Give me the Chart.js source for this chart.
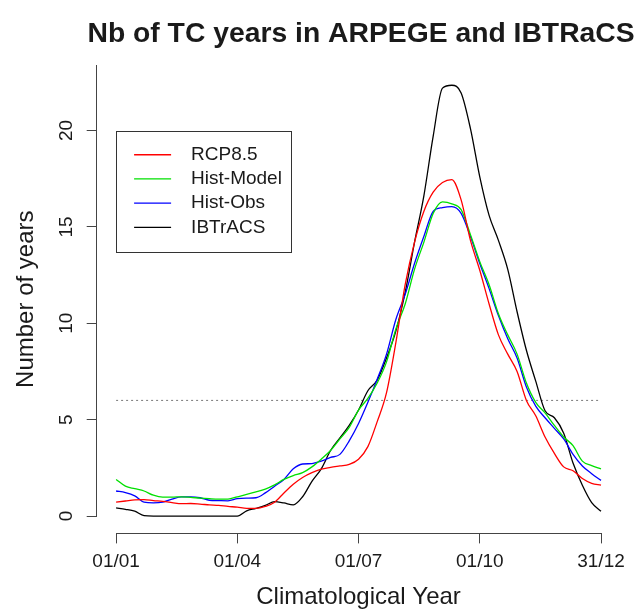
<!DOCTYPE html>
<html>
<head>
<meta charset="utf-8">
<title>Nb of TC years in ARPEGE and IBTRaCS</title>
<script src="https://cdn.jsdelivr.net/npm/chart.js@4.4.1/dist/chart.umd.min.js"></script>
<style>
  html, body { margin: 0; padding: 0; background: #fff; }
  canvas { display: block; }
</style>
</head>
<body>
<canvas id="chart" width="644" height="611"></canvas>
<script>
// day of the climatological year, one sample a week
const days = [1, 8, 15, 22, 29, 36, 43, 50, 57, 64, 71, 78, 85, 92, 99, 106, 113, 120, 127, 134,
  141, 148, 155, 162, 169, 176, 183, 190, 197, 204, 211, 218, 225, 232, 239, 246, 253, 260, 267, 274,
  281, 288, 295, 302, 309, 316, 323, 330, 337, 344, 351, 358, 365];

const rcp85 = [0.72, 0.78, 0.84, 0.85, 0.8, 0.76, 0.7, 0.64, 0.65, 0.62, 0.58, 0.55, 0.5, 0.46, 0.4, 0.4, 0.5, 0.72, 1.2, 1.65,
  2.0, 2.25, 2.43, 2.52, 2.6, 2.68, 2.95, 3.6, 4.9, 6.4, 9.0, 12.0, 14.2, 15.8, 16.8, 17.3, 17.45, 16.4, 14.3, 12.75,
  11.0, 9.4, 8.4, 7.5, 6.0, 5.2, 4.1, 3.25, 2.55, 2.35, 1.95, 1.7, 1.6];

const histModel = [1.9, 1.55, 1.42, 1.3, 1.08, 0.98, 0.98, 1.0, 0.97, 0.93, 0.9, 0.88, 0.88, 1.0, 1.12, 1.25, 1.4, 1.62, 1.9, 2.1,
  2.25, 2.55, 2.95, 3.4, 4.0, 4.6, 5.5, 6.1, 6.9, 8.0, 9.7, 11.0, 12.8, 14.2, 15.7, 16.3, 16.2, 15.9, 14.6, 13.2,
  12.0, 10.5, 9.4, 8.4, 6.9, 5.9, 5.35, 4.7, 4.1, 3.65, 2.85, 2.62, 2.45];

const histObs = [1.3, 1.22, 1.05, 0.72, 0.68, 0.72, 0.88, 1.0, 1.0, 0.95, 0.82, 0.8, 0.79, 0.9, 0.93, 0.95, 1.2, 1.55, 1.9, 2.45,
  2.7, 2.72, 2.85, 3.04, 3.2, 3.9, 4.8, 5.9, 7.1, 8.4, 10.2, 11.5, 13.1, 14.5, 15.8, 16.0, 16.05, 15.7, 14.5, 13.1,
  11.8, 10.4, 9.2, 8.2, 6.7, 5.7, 5.1, 4.55, 4.0, 3.2, 2.6, 2.2, 1.85];

const ibtracs = [0.42, 0.35, 0.25, 0.02, 0, 0, 0, 0, 0, 0, 0, 0, 0, 0, 0.27, 0.4, 0.55, 0.75, 0.68, 0.58,
  1.0, 1.8, 2.45, 3.4, 4.05, 4.7, 5.5, 6.5, 7.05, 8.2, 9.6, 11.6, 14.2, 16.6, 19.7, 22.2, 22.35, 21.95, 20.1, 17.6,
  15.6, 14.3, 12.8, 10.6, 8.6, 7.0, 5.46, 5.1, 4.3, 2.75, 1.6, 0.7, 0.25];

const thresholdDays = [1, 365];
const thresholdValue = 6;

const xTickDays = [1, 92, 183, 274, 365];
const xTickLabels = ['01/01', '01/04', '01/07', '01/10', '31/12'];
const yTicks = [0, 5, 10, 15, 20];

const titleText = 'Nb of TC years in ARPEGE and IBTRaCS';
const fontFamily = '"Liberation Sans", Arial, sans-serif';
const textColor = '#1a1a1a';
const axisColor = '#444';

const series = [
  { label: 'RCP8.5', values: rcp85, color: '#ff0000' },
  { label: 'Hist-Model', values: histModel, color: '#00e000' },
  { label: 'Hist-Obs', values: histObs, color: '#0000ff' },
  { label: 'IBTrACS', values: ibtracs, color: '#000000' }
];

const toPoints = (xs, ys) => xs.map((d, i) => ({ x: d, y: ys[i] }));

// R-style axes: lines stop at the end ticks, y labels turned, boxed legend at (1, 20)
const rAxes = {
  id: 'rAxes',
  afterDraw(chart) {
    const { ctx, chartArea, scales: { x, y } } = chart;
    ctx.save();

    // main title, centred on the plot region and free to run past it
    ctx.fillStyle = textColor;
    ctx.font = 'bold 28.3px ' + fontFamily;
    ctx.textAlign = 'center';
    ctx.textBaseline = 'alphabetic';
    ctx.fillText(titleText, (chartArea.left + chartArea.right) / 2 + 2.5, 42);

    ctx.strokeStyle = axisColor;
    ctx.lineWidth = 1;
    ctx.beginPath();
    ctx.moveTo(x.getPixelForValue(xTickDays[0]), Math.round(chartArea.bottom) + 0.5);
    ctx.lineTo(x.getPixelForValue(xTickDays[xTickDays.length - 1]), Math.round(chartArea.bottom) + 0.5);
    ctx.moveTo(Math.round(chartArea.left) - 0.5, y.getPixelForValue(yTicks[0]));
    ctx.lineTo(Math.round(chartArea.left) - 0.5, chartArea.top);
    ctx.stroke();

    ctx.font = '19px ' + fontFamily;
    yTicks.forEach(v => {
      ctx.save();
      ctx.translate(chartArea.left - 24.7, y.getPixelForValue(v));
      ctx.rotate(-Math.PI / 2);
      ctx.fillText(String(v), 0, 0);
      ctx.restore();
    });

    // legend
    const left = x.getPixelForValue(1);
    const top = y.getPixelForValue(20);
    const rowH = 24.2;
    ctx.strokeStyle = '#333';
    ctx.strokeRect(Math.round(left) + 0.5, Math.round(top) + 0.5, 175, 121);
    ctx.textAlign = 'left';
    ctx.textBaseline = 'middle';
    chart.data.datasets.filter(ds => ds.label).forEach((ds, i) => {
      const cy = top + rowH * (i + 1);
      ctx.strokeStyle = ds.borderColor;
      ctx.lineWidth = 1.3;
      ctx.beginPath();
      ctx.moveTo(left + 18, cy);
      ctx.lineTo(left + 55, cy);
      ctx.stroke();
      ctx.fillStyle = textColor;
      ctx.fillText(ds.label, left + 75, cy);
    });
    ctx.restore();
  }
};

new Chart(document.getElementById('chart'), {
  type: 'line',
  data: {
    datasets: [
      ...series.map(s => ({
        label: s.label,
        data: toPoints(days, s.values),
        borderColor: s.color,
        borderWidth: 1.3,
        pointRadius: 0,
        cubicInterpolationMode: 'monotone',
        fill: false
      })),
      {
        label: '',
        data: toPoints(thresholdDays, thresholdDays.map(() => thresholdValue)),
        borderColor: '#777',
        borderWidth: 1,
        borderDash: [2, 3],
        pointRadius: 0
      }
    ]
  },
  options: {
    responsive: false,
    animation: false,
    devicePixelRatio: 1,
    layout: { padding: { top: 65, right: 23.6 } },
    plugins: {
      legend: { display: false },
      tooltip: { enabled: false },
      title: { display: false }
    },
    scales: {
      x: {
        type: 'linear',
        min: -13.56,
        max: 379.56,
        afterBuildTicks: s => { s.ticks = xTickDays.map(v => ({ value: v })); },
        afterFit: s => { s.height = 77.6; },
        border: { display: false },
        grid: { drawOnChartArea: false, tickLength: 10, color: axisColor },
        ticks: {
          autoSkip: false,
          maxRotation: 0,
          padding: 6.6,
          color: textColor,
          font: { family: fontFamily, size: 19 },
          callback: (v, i) => xTickLabels[i]
        },
        title: {
          display: true,
          text: 'Climatological Year',
          color: textColor,
          font: { family: fontFamily, size: 24, lineHeight: 1 },
          padding: { top: 0, bottom: 1.3 }
        }
      },
      y: {
        min: -0.9,
        max: 23.4,
        afterBuildTicks: s => { s.ticks = yTicks.map(v => ({ value: v })); },
        afterFit: s => { s.width = 96.7; },
        border: { display: false },
        grid: { drawOnChartArea: false, tickLength: 10, color: axisColor },
        ticks: { display: false },
        title: {
          display: true,
          text: 'Number of years',
          color: textColor,
          font: { family: fontFamily, size: 24 },
          padding: { top: 12.3, bottom: 0 }
        }
      }
    }
  },
  plugins: [rAxes]
});
</script>
</body>
</html>
